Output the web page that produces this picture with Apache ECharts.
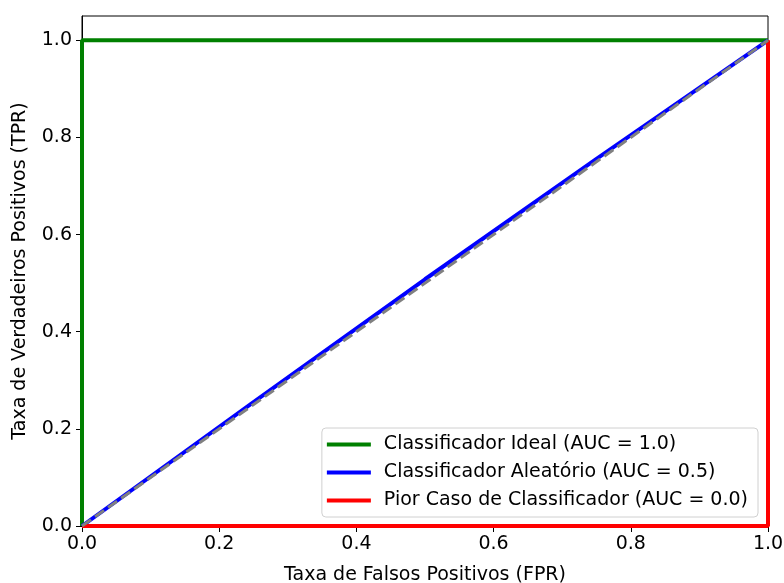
<!DOCTYPE html>
<html>
<head>
    <meta charset="utf-8">
    <style>
        html, body { width: 100%; height: 100%; margin: 0; background: #fff; }
        #chart-panel { width: 784px; height: 583px; }
    </style>
    <script src="https://cdn.jsdelivr.net/npm/echarts@6/dist/echarts.min.js"></script>
</head>
<body>
<div id="chart-panel"></div>
<script type="text/javascript">
  // ROC curves (FPR, TPR)
  var idealFpr = [0, 0, 1]
  var idealTpr = [0, 1, 1]
  var randomFpr = [0, 0.25, 0.5, 0.75, 1]
  var randomTpr = [0, 0.255, 0.508, 0.756, 1]
  var worstFpr = [0, 1, 1]
  var worstTpr = [0, 0, 1]
  var diagFpr = [0, 1]
  var diagTpr = [0, 1]
  var tickValues = [0, 0.2, 0.4, 0.6, 0.8, 1.0]

  var names = ['Classificador Ideal (AUC = 1.0)',
               'Classificador Aleatório (AUC = 0.5)',
               'Pior Caso de Classificador (AUC = 0.0)']

  function zip(xs, ys) {
    return xs.map((x, i) => [x, ys[i]])
  }

  var myChart = echarts.init(document.getElementById('chart-panel'))
  var font = 'DejaVu Sans'
  var fs = 19

  var option = {
    animation: false,
    textStyle: { fontFamily: font },
    grid: {
      left: 82, right: 16, top: 16, bottom: 57,
      containLabel: false,
      outerBoundsMode: 'none',
      show: true, borderColor: '#000', borderWidth: 1
    },
    legend: {
      orient: 'vertical',
      right: 26,
      bottom: 66,
      padding: [7, 10, 7, 5],
      itemGap: 9,
      itemWidth: 44,
      itemHeight: 4,
      icon: 'rect',
      backgroundColor: '#fff',
      borderColor: '#d0d0d0',
      borderWidth: 1,
      borderRadius: 4,
      textStyle: { fontFamily: font, fontSize: fs, color: '#000', padding: [0, 0, 0, 8] },
      data: names
    },
    xAxis: {
      type: 'value',
      min: 0, max: 1, interval: 0.2,
      name: 'Taxa de Falsos Positivos (FPR)',
      nameLocation: 'middle',
      nameGap: 40,
      nameTextStyle: { fontFamily: font, fontSize: fs, color: '#000' },
      axisLine: { show: true, lineStyle: { color: '#000', width: 1 } },
      axisTick: { show: true, length: 6, lineStyle: { color: '#000' } },
      axisLabel: { fontFamily: font, fontSize: fs, color: '#000', margin: 9,
                   formatter: v => v.toFixed(1) },
      splitLine: { show: false }
    },
    yAxis: {
      type: 'value',
      min: 0, max: 1.05,
      name: 'Taxa de Verdadeiros Positivos (TPR)',
      nameLocation: 'middle',
      nameGap: 52,
      nameTextStyle: { fontFamily: font, fontSize: fs, color: '#000' },
      axisLine: { show: true, lineStyle: { color: '#000', width: 1 } },
      axisTick: { show: true, length: 6, lineStyle: { color: '#000' }, customValues: tickValues },
      axisLabel: { fontFamily: font, fontSize: fs, color: '#000', margin: 10,
                   customValues: tickValues, formatter: v => v.toFixed(1) },
      splitLine: { show: false }
    },
    series: [
      {
        name: names[0], type: 'line', data: zip(idealFpr, idealTpr),
        showSymbol: false, color: '#008000',
        lineStyle: { width: 4, color: '#008000' }, z: 2
      },
      {
        name: names[1], type: 'line', data: zip(randomFpr, randomTpr),
        showSymbol: false, color: '#0000ff',
        lineStyle: { width: 4, color: '#0000ff' }, z: 3
      },
      {
        name: names[2], type: 'line', data: zip(worstFpr, worstTpr),
        showSymbol: false, color: '#ff0000',
        lineStyle: { width: 4, color: '#ff0000' }, z: 4
      },
      {
        name: 'diag', type: 'line', data: zip(diagFpr, diagTpr),
        showSymbol: false, color: '#808080',
        lineStyle: { width: 3, color: '#808080', type: [11, 5] }, z: 5
      }
    ]
  }

  myChart.setOption(option)
</script>
</body>
</html>
